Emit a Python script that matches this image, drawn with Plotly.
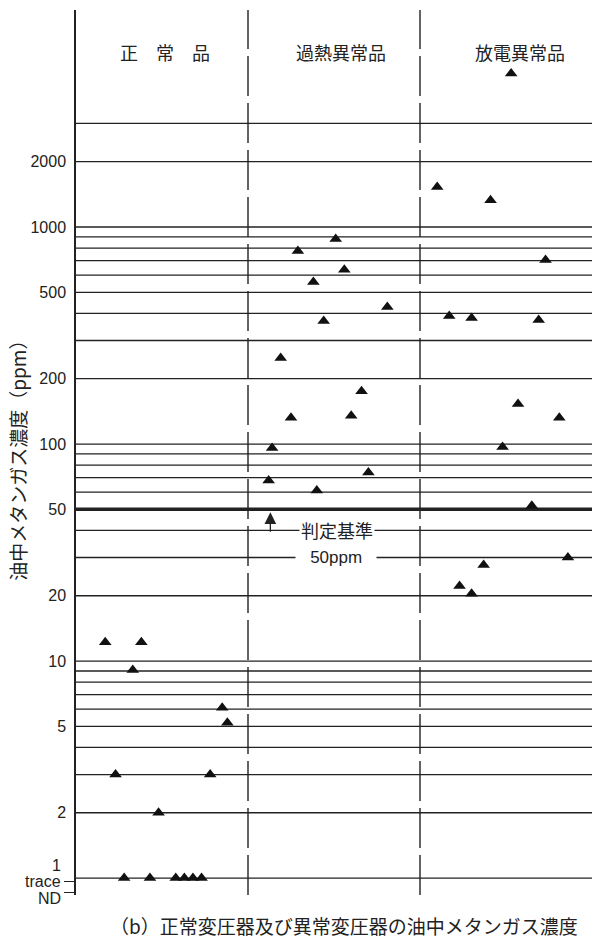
import math
import plotly.graph_objects as go

# ---------------- data ----------------
groups = ["正　常　品", "過熱異常品", "放電異常品"]

# 正常品 (x position within chart, value ppm)
normal_x = [0.17, 0.38, 0.33, 0.85, 0.88, 0.23, 0.78, 0.48, 0.28, 0.43, 0.58, 0.63, 0.68, 0.73]
normal_y = [12.2, 12.2, 9.1, 6.1, 5.2, 3.0, 3.0, 2.0, 1.0, 1.0, 1.0, 1.0, 1.0, 1.0]

# 過熱異常品
overheat_x = [1.51, 1.29, 1.56, 1.38, 1.81, 1.44, 1.19, 1.66, 1.25, 1.60, 1.14, 1.70, 1.12, 1.40]
overheat_y = [880, 775, 635, 558, 428, 369, 249, 175, 132, 135, 96, 74, 68, 61]

# 放電異常品
discharge_x = [2.53, 2.10, 2.41, 2.73, 2.17, 2.30, 2.69, 2.57, 2.81, 2.48, 2.65, 2.86, 2.37, 2.23, 2.30]
discharge_y = [5100, 1530, 1330, 705, 389, 381, 373, 153, 132, 97, 52, 30, 27.7, 22.2, 20.4]

# horizontal ruled lines (ppm)
grid_vals = [1, 2, 3, 4, 5, 6, 7, 8, 9,
             10, 20, 30, 40, 50, 60, 70, 80, 90,
             100, 200, 300, 400, 500, 600, 700, 800, 900,
             1000, 2000, 3000]
criterion = 50

tick_vals = [2000, 1000, 500, 200, 100, 50, 20, 10, 5, 2]
tick_text = ["2000", "1000", "500", "200", "100", "50", "20", "10", "5", "2"]
low_labels = ["1", "trace", "ND"]
low_levels = [1.0, 0.96, 0.855]

header_x = [0.52, 1.54, 2.58]

ink = "#222222"
font_latin = "Liberation Sans, Arial, Noto Sans CJK JP"
font_cjk = "Noto Sans CJK JP, Liberation Sans"

fig = go.Figure()

all_x = normal_x + overheat_x + discharge_x
all_y = normal_y + overheat_y + discharge_y
fig.add_trace(go.Scatter(
    x=all_x, y=all_y, mode="markers",
    marker=dict(symbol="triangle-up", size=11, color="#111111"),
    showlegend=False, hoverinfo="skip"))

shapes = []
for v in grid_vals:
    shapes.append(dict(type="line", xref="x", yref="y", x0=0, x1=3, y0=v, y1=v,
                       line=dict(color=ink, width=3.5 if v == criterion else 1.3),
                       layer="below"))
for xv in [1, 2]:
    shapes.append(dict(type="line", xref="x", yref="paper", x0=xv, x1=xv, y0=0, y1=1,
                       line=dict(color=ink, width=1.4, dash="40px,7px"), layer="below"))

L = math.log10  # annotations on a log axis take log10 positions
label_shift = {"1": 13, "trace": 0, "ND": -6}

annotations = []
for g, hx in zip(groups, header_x):
    annotations.append(dict(text=g, x=hx, xref="x", y=0.969, yref="paper",
                            showarrow=False, font=dict(family=font_cjk, size=18, color=ink)))

for lab, lv in zip(low_labels, low_levels):
    annotations.append(dict(text=lab, x=0, xref="paper", y=L(lv), yref="y",
                            xanchor="right", yanchor="middle", xshift=-13,
                            yshift=label_shift[lab],
                            showarrow=False, font=dict(family=font_latin, size=16, color=ink)))

# y axis title
annotations.append(dict(text="油中メタンガス濃度（ppm）", x=-0.115, xref="paper", y=0.496, yref="paper",
                        textangle=-90, showarrow=False, xanchor="center", yanchor="middle",
                        font=dict(family=font_cjk, size=19, color=ink)))

# criterion callout
annotations.append(dict(text="", x=1.13, xref="x", y=L(48.5), yref="y",
                        showarrow=True, ax=0, ay=21, arrowhead=2, arrowsize=1.8,
                        arrowwidth=1.3, arrowcolor=ink, standoff=0))
annotations.append(dict(text="判定基準", x=1.515, xref="x", y=L(40), yref="y",
                        showarrow=False, bgcolor="white", borderpad=1,
                        font=dict(family=font_cjk, size=18, color=ink)))
annotations.append(dict(text="\u00a0\u00a0\u00a050ppm\u00a0\u00a0\u00a0", x=1.51, xref="x", y=L(30), yref="y",
                        showarrow=False, bgcolor="white", borderpad=0,
                        font=dict(family=font_latin, size=17, color=ink)))

# caption
annotations.append(dict(text="（b）正常変圧器及び異常変圧器の油中メタンガス濃度",
                        x=0.52, xref="paper", y=-0.034, yref="paper",
                        showarrow=False, xanchor="center", yanchor="middle",
                        font=dict(family=font_cjk, size=19, color=ink)))

fig.update_layout(
    width=596, height=938,
    margin=dict(l=76, r=4, t=10, b=43),
    paper_bgcolor="white", plot_bgcolor="white",
    shapes=shapes, annotations=annotations,
    xaxis=dict(range=[0, 3], visible=False, fixedrange=True),
    yaxis=dict(type="log", range=[-0.078, 4.0],
               tickvals=tick_vals, ticktext=tick_text,
               ticks="", showgrid=False, zeroline=False,
               showline=True, linecolor=ink, linewidth=1.5,
               tickfont=dict(family=font_latin, size=16, color=ink),
               ticklabelstandoff=5,
               minor=dict(tickvals=low_levels[1:], ticks="outside", ticklen=10,
                          tickwidth=1.2, tickcolor=ink, showgrid=False)),
)

fig.write_html("out.html")
